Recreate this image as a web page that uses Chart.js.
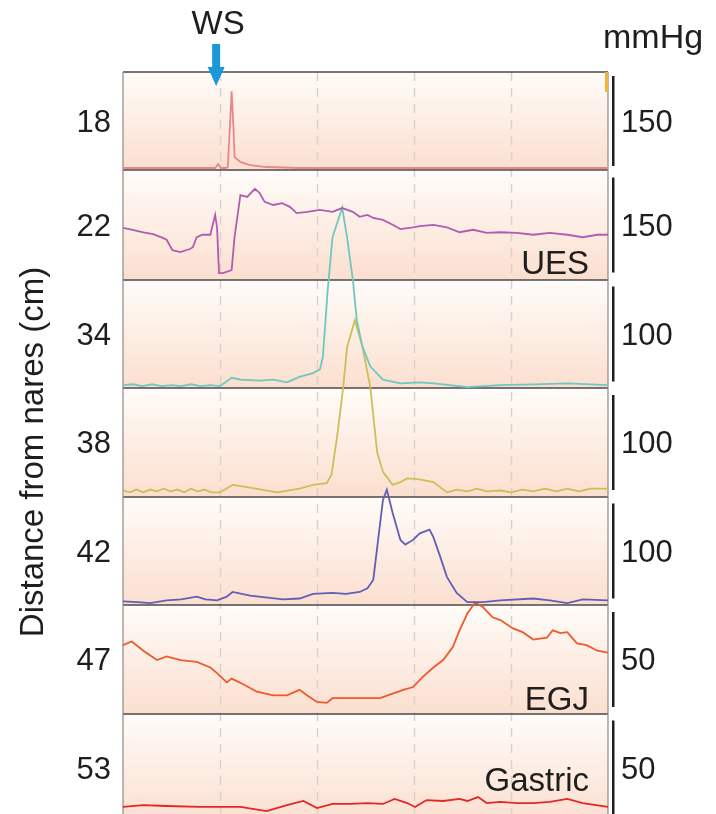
<!DOCTYPE html>
<html>
<head>
<meta charset="utf-8">
<script src="https://cdn.jsdelivr.net/npm/chart.js@4.4.1/dist/chart.umd.min.js"></script>
<style>
html, body { margin: 0; padding: 0; background: #fff; }
#wrap { width: 716px; height: 814px; }
</style>
</head>
<body>
<div id="wrap"><canvas id="chart" width="716" height="814"></canvas></div>
<script>
// channels: depth from nares (cm), scale bar value (mmHg), region label
const depths = [18, 22, 34, 38, 42, 47, 53];
const scaleValues = [150, 150, 100, 100, 100, 50, 50];
const regionLabels = ["", "UES", "", "", "", "EGJ", "Gastric"];
const gridTimes = [1, 2, 3, 4];
const wsTime = 0.95;

// pressure traces as [time (s), pressure (mmHg)]
const trace18 = [[0,3.2],[0.5,3.2],[0.95,3.2],[0.98,9.7],[1.01,3.2],[1.06,3.2],[1.08,4.8],[1.10,64],[1.12,127],[1.14,64],[1.15,21],[1.21,13],[1.31,8],[1.48,4.8],[1.82,3.2],[3,3.2],[5,3.2]];
const trace22 = [[0,84],[0.1,81],[0.21,77],[0.31,74],[0.41,68],[0.45,65],[0.51,48],[0.59,45],[0.69,50],[0.72,53],[0.76,69],[0.82,73],[0.90,73],[0.95,105],[0.97,84],[0.99,11],[1.03,11],[1.12,16],[1.15,69],[1.21,137],[1.28,134],[1.36,147],[1.41,140],[1.46,126],[1.55,121],[1.64,124],[1.72,118],[1.79,108],[1.90,110],[2.03,113],[2.16,110],[2.26,116],[2.37,110],[2.44,102],[2.52,105],[2.58,100],[2.68,97],[2.78,89],[2.86,82],[2.99,85],[3.06,87],[3.20,89],[3.34,85],[3.47,77],[3.61,81],[3.75,76],[3.89,77],[4.06,76],[4.23,73],[4.40,76],[4.58,73],[4.74,69],[4.89,73],[5,73]];
const trace34 = [[0,3],[0.1,4],[0.2,2],[0.3,4],[0.4,2],[0.5,3],[0.6,2],[0.7,4],[0.8,2],[0.9,3],[1.00,2],[1.12,11],[1.21,9],[1.41,8],[1.55,9],[1.69,6],[1.82,12],[1.96,16],[2.03,20],[2.06,33],[2.11,105],[2.16,162],[2.26,194],[2.31,162],[2.37,116],[2.41,73],[2.47,44],[2.55,23],[2.68,9],[2.86,5],[3.06,6],[3.20,5],[3.55,1],[3.89,3],[4.23,4],[4.58,5],[5,3]];
const trace38 = [[0,7],[0.07,5],[0.14,8],[0.21,5],[0.28,8],[0.35,6],[0.42,9],[0.49,6],[0.56,8],[0.63,5],[0.70,9],[0.77,6],[0.84,8],[0.91,5],[1.00,5],[1.13,13],[1.31,10],[1.59,5],[1.82,9],[1.96,13],[2.10,15],[2.15,24],[2.21,67],[2.27,118],[2.31,161],[2.39,190],[2.47,161],[2.55,118],[2.62,48],[2.68,27],[2.78,13],[2.86,16],[2.93,20],[3.06,19],[3.20,16],[3.34,5],[3.44,8],[3.55,6],[3.65,9],[3.75,6],[3.89,7],[4.0,5],[4.12,8],[4.23,6],[4.35,9],[4.47,6],[4.58,9],[4.70,6],[4.82,9],[5,9]];
const trace42 = [[0,4],[0.15,3],[0.28,2],[0.45,5],[0.6,6],[0.76,9],[0.85,6],[0.97,5],[1.07,9],[1.13,14],[1.31,10],[1.65,6],[1.82,7],[1.96,12],[2.16,13],[2.30,12],[2.44,14],[2.52,18],[2.58,27],[2.63,70],[2.68,113],[2.72,124],[2.78,99],[2.86,70],[2.91,65],[2.99,70],[3.06,77],[3.16,81],[3.20,73],[3.27,52],[3.34,30],[3.44,13],[3.55,3],[3.71,3],[3.89,5],[4.23,7],[4.40,5],[4.58,2],[4.74,6],[5,5]];
const trace47 = [[0,37],[0.09,39],[0.21,34],[0.35,29],[0.45,31],[0.59,29],[0.76,28],[0.90,25],[0.97,22],[1.07,17],[1.12,19],[1.24,16],[1.38,12],[1.55,10],[1.69,10],[1.82,13],[1.90,10],[2.00,6.5],[2.10,6],[2.16,8.5],[2.31,8.5],[2.52,8.5],[2.65,8.5],[2.78,11],[2.89,13],[2.99,14.5],[3.09,20],[3.20,25],[3.30,29],[3.40,36],[3.47,45],[3.55,54],[3.63,60],[3.71,57.5],[3.81,52],[3.89,50.5],[4.02,46],[4.12,44],[4.23,40],[4.37,41],[4.43,45],[4.51,43.5],[4.58,44],[4.68,38],[4.78,37],[4.89,34],[5,33]];
const trace53 = [[0,8.1],[0.21,9.1],[0.45,8.6],[0.79,8.1],[1.00,8.1],[1.21,8.1],[1.48,5.9],[1.69,9.1],[1.86,11.3],[2.00,7.5],[2.16,9.7],[2.34,9.7],[2.52,10.2],[2.68,9.7],[2.80,12.4],[2.93,10.2],[3.01,8.1],[3.13,11.8],[3.30,11.3],[3.47,12.4],[3.55,11.3],[3.66,13.4],[3.75,10.2],[3.89,10.8],[4.06,10.2],[4.23,10.2],[4.40,10.8],[4.58,12.4],[4.74,10.2],[5,8.1]];

const traces = [trace18, trace22, trace34, trace38, trace42, trace47, trace53];
const traceColors = ["#e8878b", "#b05cb2", "#6fc8c0", "#cdbf58", "#5f5fb6", "#ee5a2a", "#e52626"];

// layout (canvas pixels)
const panelEdges = [72, 170, 280, 388, 497, 605, 714, 822];
const labelBaselines = [0, 274, 0, 0, 0, 710, 791];
const plotTop = 72, plotBottom = 814, plotLeft = 123, plotRight = 608;
const barPx = 93;
const numFont = "31px 'Liberation Sans', Arial, sans-serif";
const labelFont = "33px 'Liberation Sans', Arial, sans-serif";

let scales = {
	x: { type: "linear", min: 0, max: 5, display: false }
};
let datasets = [];
for (let k = 0; k < traces.length; k++) {
	let zero = panelEdges[k + 1];
	let ppu = barPx / scaleValues[k];
	scales["y" + k] = {
		type: "linear",
		display: false,
		min: -(plotBottom - zero) / ppu,
		max: (zero - plotTop) / ppu
	};
	datasets.push({
		label: depths[k] + " cm",
		data: traces[k].map(p => ({ x: p[0], y: p[1] })),
		yAxisID: "y" + k,
		borderColor: traceColors[k],
		borderWidth: 1.8,
		pointRadius: 0,
		tension: 0,
		clip: false
	});
}

const panelsPlugin = {
	id: "panels",
	beforeDatasetsDraw(chart) {
		let ctx = chart.ctx;
		let xs = chart.scales.x;
		ctx.save();
		for (let k = 0; k < depths.length; k++) {
			let top = panelEdges[k], bottom = panelEdges[k + 1];
			let grad = ctx.createLinearGradient(0, top, 0, bottom);
			grad.addColorStop(0, "#fffcf9");
			grad.addColorStop(1, "#fbdfcf");
			ctx.fillStyle = grad;
			ctx.fillRect(plotLeft, top, plotRight - plotLeft, bottom - top);
		}
		// dashed time grid
		ctx.strokeStyle = "#d9d2cf";
		ctx.lineWidth = 1.5;
		ctx.setLineDash([9, 7]);
		gridTimes.forEach(t => {
			let x = Math.round(xs.getPixelForValue(t)) + 0.5;
			ctx.beginPath();
			ctx.moveTo(x, plotTop);
			ctx.lineTo(x, plotBottom);
			ctx.stroke();
		});
		ctx.setLineDash([]);
		// panel separators
		ctx.strokeStyle = "#4a4a4a";
		ctx.lineWidth = 1.5;
		for (let k = 0; k < depths.length; k++) {
			let y = panelEdges[k];
			ctx.beginPath();
			ctx.moveTo(plotLeft, y);
			ctx.lineTo(plotRight, y);
			ctx.stroke();
		}
		// side borders
		ctx.strokeStyle = "#8a8a8a";
		ctx.lineWidth = 1.2;
		ctx.beginPath();
		ctx.moveTo(plotLeft, plotTop);
		ctx.lineTo(plotLeft, plotBottom);
		ctx.moveTo(plotRight, plotTop);
		ctx.lineTo(plotRight, plotBottom);
		ctx.stroke();
		// small marker at top right of first panel
		ctx.fillStyle = "#f0b43c";
		ctx.fillRect(plotRight - 3, plotTop, 3, 20);
		ctx.restore();
	},
	afterDraw(chart) {
		let ctx = chart.ctx;
		let xs = chart.scales.x;
		ctx.save();
		ctx.fillStyle = "#1e1e1e";
		ctx.textBaseline = "middle";
		for (let k = 0; k < depths.length; k++) {
			let top = panelEdges[k], bottom = panelEdges[k + 1];
			let mid = (top + bottom) / 2 + 2;
			ctx.font = numFont;
			ctx.textAlign = "right";
			ctx.fillText(String(depths[k]), 111, mid);
			ctx.textAlign = "left";
			ctx.fillText(String(scaleValues[k]), 621, mid);
			// scale bar
			let h = Math.min(barPx + 2, bottom - top - 8);
			ctx.fillRect(612, mid - 2 - h / 2, 2.5, h);
			if (regionLabels[k]) {
				ctx.font = labelFont;
				ctx.textAlign = "right";
				ctx.textBaseline = "alphabetic";
				ctx.fillText(regionLabels[k], 589, labelBaselines[k]);
				ctx.textBaseline = "middle";
			}
		}
		// axis title
		ctx.save();
		ctx.translate(34, 452);
		ctx.rotate(-Math.PI / 2);
		ctx.textAlign = "center";
		ctx.font = "33px 'Liberation Sans', Arial, sans-serif";
		ctx.fillText("Distance from nares (cm)", 0, 0);
		ctx.restore();
		// unit
		ctx.textAlign = "left";
		ctx.textBaseline = "alphabetic";
		ctx.font = "34px 'Liberation Sans', Arial, sans-serif";
		ctx.fillText("mmHg", 603, 48);
		// water swallow marker
		let wx = xs.getPixelForValue(wsTime) + 1;
		ctx.textAlign = "center";
		ctx.font = "33px 'Liberation Sans', Arial, sans-serif";
		ctx.fillText("WS", wx + 2, 34);
		ctx.fillStyle = "#1b98d8";
		ctx.fillRect(wx - 4, 44, 8, 24);
		ctx.beginPath();
		ctx.moveTo(wx - 8.5, 67);
		ctx.lineTo(wx + 8.5, 67);
		ctx.lineTo(wx, 86);
		ctx.closePath();
		ctx.fill();
		ctx.restore();
	}
};

new Chart(document.getElementById("chart"), {
	type: "line",
	data: { datasets: datasets },
	options: {
		responsive: false,
		animation: false,
		devicePixelRatio: 1,
		layout: { padding: { left: plotLeft, right: 716 - plotRight, top: plotTop, bottom: 814 - plotBottom } },
		plugins: { legend: { display: false }, tooltip: { enabled: false } },
		scales: scales
	},
	plugins: [panelsPlugin]
});
</script>
</body>
</html>
